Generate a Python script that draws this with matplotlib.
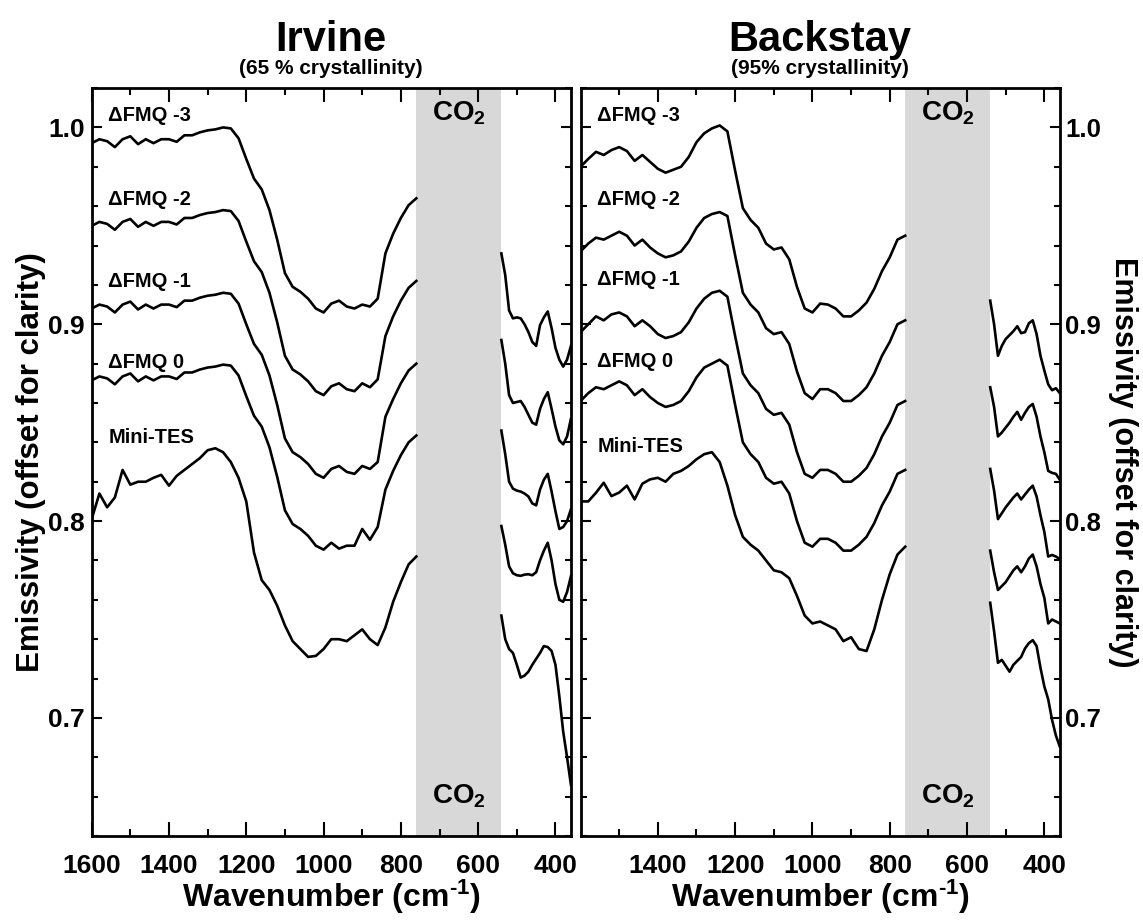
import numpy as np
import matplotlib.pyplot as plt

plt.rcParams['font.family'] = ['Liberation Sans', 'DejaVu Sans']
plt.rcParams['font.weight'] = 'bold'
plt.rcParams['axes.labelweight'] = 'bold'
plt.rcParams['mathtext.fontset'] = 'custom'
plt.rcParams['mathtext.rm'] = 'Liberation Sans:bold'
plt.rcParams['mathtext.it'] = 'Liberation Sans:bold'
plt.rcParams['mathtext.bf'] = 'Liberation Sans:bold'

# wavenumber grids (cm-1): main window and the part below the CO2 band
wn_main = np.arange(1600, 759, -20)
wn_low = np.arange(540, 359, -10)

# ---- Irvine (65 % crystallinity)
irv_fmq3 = [0.992, 0.994, 0.993, 0.990, 0.994, 0.9955, 0.9915, 0.994, 0.992, 0.994,
            0.994, 0.9927, 0.996, 0.996, 0.9975, 0.9985, 0.999, 1.000, 0.9995, 0.9945,
            0.984, 0.974, 0.9685, 0.958, 0.943, 0.926, 0.919, 0.9165, 0.913, 0.908,
            0.906, 0.9105, 0.912, 0.909, 0.908, 0.910, 0.909, 0.913, 0.936, 0.946,
            0.954, 0.9605, 0.964]
irv_fmq2 = [0.950, 0.952, 0.951, 0.948, 0.952, 0.9535, 0.9495, 0.952, 0.950, 0.952,
            0.952, 0.9507, 0.954, 0.954, 0.9555, 0.9565, 0.957, 0.958, 0.9575, 0.9525,
            0.942, 0.932, 0.9265, 0.916, 0.901, 0.884, 0.877, 0.8745, 0.871, 0.866,
            0.864, 0.8685, 0.870, 0.867, 0.866, 0.870, 0.868, 0.872, 0.894, 0.904,
            0.912, 0.9185, 0.922]
irv_fmq1 = [0.908, 0.910, 0.909, 0.906, 0.910, 0.9115, 0.9075, 0.910, 0.908, 0.910,
            0.910, 0.9087, 0.912, 0.912, 0.9135, 0.9145, 0.915, 0.916, 0.9155, 0.9105,
            0.900, 0.890, 0.8845, 0.874, 0.859, 0.842, 0.835, 0.8325, 0.829, 0.824,
            0.822, 0.8265, 0.828, 0.825, 0.824, 0.828, 0.8265, 0.830, 0.853, 0.862,
            0.870, 0.8765, 0.880]
irv_fmq0 = [0.8715, 0.8735, 0.8725, 0.8695, 0.8735, 0.875, 0.871, 0.8735, 0.8715, 0.8735,
            0.8735, 0.8722, 0.8755, 0.8755, 0.877, 0.878, 0.8785, 0.8795, 0.879, 0.874,
            0.8635, 0.8535, 0.848, 0.8375, 0.8225, 0.8055, 0.7985, 0.796, 0.7925, 0.7875,
            0.7855, 0.789, 0.786, 0.7875, 0.7875, 0.796, 0.7905, 0.797, 0.816, 0.8255,
            0.8335, 0.840, 0.8435]
irv_tes = [0.801, 0.814, 0.807, 0.812, 0.826, 0.8185, 0.820, 0.820, 0.822, 0.8235,
           0.818, 0.823, 0.826, 0.829, 0.832, 0.836, 0.837, 0.835, 0.830, 0.822,
           0.810, 0.784, 0.770, 0.765, 0.757, 0.747, 0.739, 0.735, 0.731, 0.7315,
           0.735, 0.740, 0.740, 0.739, 0.742, 0.745, 0.740, 0.737, 0.746, 0.759,
           0.769, 0.778, 0.782]

irv_fmq3_low = [0.936, 0.925, 0.907, 0.903, 0.9035, 0.903, 0.900, 0.896, 0.891, 0.889,
                0.8995, 0.9035, 0.9065, 0.898, 0.888, 0.882, 0.8785, 0.882, 0.889]
irv_fmq2_low = [0.892, 0.880, 0.864, 0.860, 0.8605, 0.861, 0.858, 0.854, 0.850, 0.849,
                0.857, 0.862, 0.8655, 0.857, 0.848, 0.841, 0.839, 0.843, 0.852]
irv_fmq1_low = [0.846, 0.834, 0.820, 0.8165, 0.8155, 0.815, 0.814, 0.8125, 0.809, 0.808,
                0.816, 0.821, 0.824, 0.815, 0.805, 0.796, 0.797, 0.800, 0.806]
irv_fmq0_low = [0.7975, 0.788, 0.777, 0.7735, 0.7725, 0.7722, 0.7728, 0.773, 0.7725, 0.774,
                0.780, 0.785, 0.789, 0.780, 0.768, 0.760, 0.759, 0.764, 0.772]
irv_tes_low = [0.752, 0.740, 0.735, 0.733, 0.727, 0.7205, 0.7215, 0.7235, 0.727, 0.730,
               0.733, 0.7365, 0.736, 0.734, 0.727, 0.711, 0.693, 0.680, 0.666]

# ---- Backstay (95% crystallinity)
bks_fmq3 = [0.980, 0.984, 0.9876, 0.986, 0.9885, 0.990, 0.988, 0.983, 0.986, 0.9825,
            0.979, 0.977, 0.9785, 0.980, 0.985, 0.9925, 0.997, 0.9995, 1.001, 0.998,
            0.978, 0.959, 0.953, 0.949, 0.941, 0.938, 0.939, 0.933, 0.919, 0.908,
            0.906, 0.9105, 0.910, 0.908, 0.904, 0.904, 0.907, 0.911, 0.918, 0.927,
            0.934, 0.943, 0.945]
bks_fmq2 = [0.937, 0.941, 0.944, 0.943, 0.945, 0.947, 0.945, 0.940, 0.943, 0.939,
            0.936, 0.934, 0.935, 0.937, 0.942, 0.949, 0.954, 0.956, 0.957, 0.955,
            0.935, 0.916, 0.910, 0.906, 0.898, 0.895, 0.896, 0.890, 0.876, 0.865,
            0.862, 0.867, 0.867, 0.865, 0.861, 0.861, 0.864, 0.868, 0.875, 0.884,
            0.891, 0.900, 0.902]
bks_fmq1 = [0.896, 0.900, 0.904, 0.902, 0.905, 0.906, 0.904, 0.899, 0.902, 0.899,
            0.895, 0.893, 0.894, 0.896, 0.901, 0.908, 0.913, 0.916, 0.917, 0.914,
            0.894, 0.875, 0.869, 0.865, 0.857, 0.854, 0.855, 0.849, 0.835, 0.824,
            0.822, 0.826, 0.826, 0.824, 0.820, 0.820, 0.823, 0.827, 0.834, 0.843,
            0.850, 0.859, 0.861]
bks_fmq0 = [0.861, 0.865, 0.868, 0.867, 0.869, 0.871, 0.869, 0.864, 0.867, 0.863,
            0.860, 0.858, 0.859, 0.861, 0.866, 0.873, 0.878, 0.880, 0.882, 0.879,
            0.859, 0.840, 0.834, 0.830, 0.822, 0.819, 0.820, 0.814, 0.800, 0.789,
            0.787, 0.791, 0.791, 0.789, 0.785, 0.785, 0.788, 0.792, 0.799, 0.808,
            0.815, 0.824, 0.826]
bks_tes = [0.810, 0.810, 0.8144, 0.8195, 0.8127, 0.8145, 0.818, 0.811, 0.819, 0.8212,
           0.822, 0.820, 0.824, 0.8255, 0.828, 0.8314, 0.834, 0.835, 0.830, 0.818,
           0.803, 0.792, 0.788, 0.785, 0.780, 0.775, 0.774, 0.771, 0.762, 0.752,
           0.748, 0.749, 0.747, 0.745, 0.739, 0.741, 0.735, 0.734, 0.745, 0.760,
           0.773, 0.783, 0.787]

bks_fmq3_low = [0.912, 0.900, 0.884, 0.889, 0.8925, 0.8945, 0.8965, 0.899, 0.8955, 0.896,
                0.9005, 0.902, 0.895, 0.884, 0.8765, 0.8695, 0.8665, 0.8675, 0.865]
bks_fmq2_low = [0.868, 0.858, 0.843, 0.845, 0.8475, 0.850, 0.853, 0.8555, 0.8515, 0.855,
                0.858, 0.8595, 0.853, 0.843, 0.835, 0.8255, 0.8245, 0.824, 0.821]
bks_fmq1_low = [0.8265, 0.8155, 0.801, 0.804, 0.807, 0.8095, 0.812, 0.814, 0.811, 0.8135,
                0.816, 0.818, 0.8125, 0.803, 0.7945, 0.782, 0.7828, 0.782, 0.7807]
bks_fmq0_low = [0.785, 0.774, 0.765, 0.767, 0.769, 0.772, 0.775, 0.777, 0.774, 0.777,
                0.781, 0.783, 0.777, 0.768, 0.761, 0.748, 0.750, 0.749, 0.748]
bks_tes_low = [0.7585, 0.744, 0.728, 0.7295, 0.7265, 0.7235, 0.727, 0.729, 0.731, 0.7353,
               0.738, 0.7395, 0.7365, 0.7255, 0.716, 0.7095, 0.699, 0.691, 0.6855]

labels = ['\u0394FMQ -3', '\u0394FMQ -2', '\u0394FMQ -1', '\u0394FMQ 0', 'Mini-TES']
label_y_irv = [1.006, 0.9634, 0.9216, 0.8807, 0.8423]
label_y_bks = [1.006, 0.9634, 0.9225, 0.881, 0.838]

co2_band = (760, 540)

fig = plt.figure(figsize=(11.43, 9.24), dpi=100)
ax1 = fig.add_axes([0.0802, 0.0952, 0.4193, 0.8095])
ax2 = fig.add_axes([0.5079, 0.0952, 0.4193, 0.8095])

panels = [
    (ax1, [irv_fmq3, irv_fmq2, irv_fmq1, irv_fmq0, irv_tes],
     [irv_fmq3_low, irv_fmq2_low, irv_fmq1_low, irv_fmq0_low, irv_tes_low], label_y_irv),
    (ax2, [bks_fmq3, bks_fmq2, bks_fmq1, bks_fmq0, bks_tes],
     [bks_fmq3_low, bks_fmq2_low, bks_fmq1_low, bks_fmq0_low, bks_tes_low], label_y_bks),
]

for ax, mains, lows, ly in panels:
    ax.axvspan(co2_band[0], co2_band[1], color='#d8d8d8', lw=0, zorder=0)
    for m, l in zip(mains, lows):
        ax.plot(wn_main, m, color='black', lw=1.9)
        ax.plot(wn_low, l, color='black', lw=1.9)
    for txt, y in zip(labels, ly):
        ax.text(1557, y, txt, fontsize=14.5, fontweight='bold', va='center', ha='left')
    ax.text(650, 1.007, 'CO$_2$', fontsize=20, ha='center', va='center')
    ax.text(650, 0.660, 'CO$_2$', fontsize=20, ha='center', va='center')

    ax.set_xlim(1600, 360)
    ax.set_ylim(0.64, 1.02)
    ax.set_yticks([0.7, 0.8, 0.9, 1.0])
    ax.set_yticklabels(['0.7', '0.8', '0.9', '1.0'])
    ax.set_yticks(np.arange(0.64, 1.021, 0.02), minor=True)
    ax.set_xticks(np.arange(1500, 350, -100), minor=True)
    ax.tick_params(which='both', direction='in', top=True, bottom=True,
                   left=True, right=True, width=1.5, labelsize=19)
    ax.tick_params(axis='x', which='major', length=10, pad=13)
    ax.tick_params(axis='x', which='minor', length=5)
    ax.tick_params(axis='y', which='major', length=7)
    ax.tick_params(axis='y', which='minor', length=4)
    for s in ax.spines.values():
        s.set_linewidth(2)
    ax.set_xlabel('Wavenumber (cm$^{\\text{-1}}$)', fontsize=23, labelpad=0)

ax1.set_xticks([1600, 1400, 1200, 1000, 800, 600, 400])
ax1.tick_params(axis='y', labelleft=True, labelright=False, pad=5)
ax1.set_ylabel('Emissivity (offset for clarity)', fontsize=22.5)
ax1.yaxis.set_label_coords(-0.095, 0.5)

ax2.set_xticks([1400, 1200, 1000, 800, 600, 400])
ax2.tick_params(axis='y', labelleft=False, labelright=True, pad=4, labelsize=18.5)
ax2.yaxis.set_label_position('right')
ax2.set_ylabel('Emissivity (offset for clarity)', fontsize=22, rotation=270, va='bottom')
ax2.yaxis.set_label_coords(1.1, 0.5)

fig.text(0.289, 0.957, 'Irvine', fontsize=30, ha='center', va='center', fontweight='bold')
fig.text(0.289, 0.926, '(65 % crystallinity)', fontsize=15, ha='center', va='center', fontweight='bold')
fig.text(0.717, 0.957, 'Backstay', fontsize=30, ha='center', va='center', fontweight='bold')
fig.text(0.717, 0.926, '(95% crystallinity)', fontsize=15, ha='center', va='center', fontweight='bold')

fig.savefig('out.png', dpi=100)
